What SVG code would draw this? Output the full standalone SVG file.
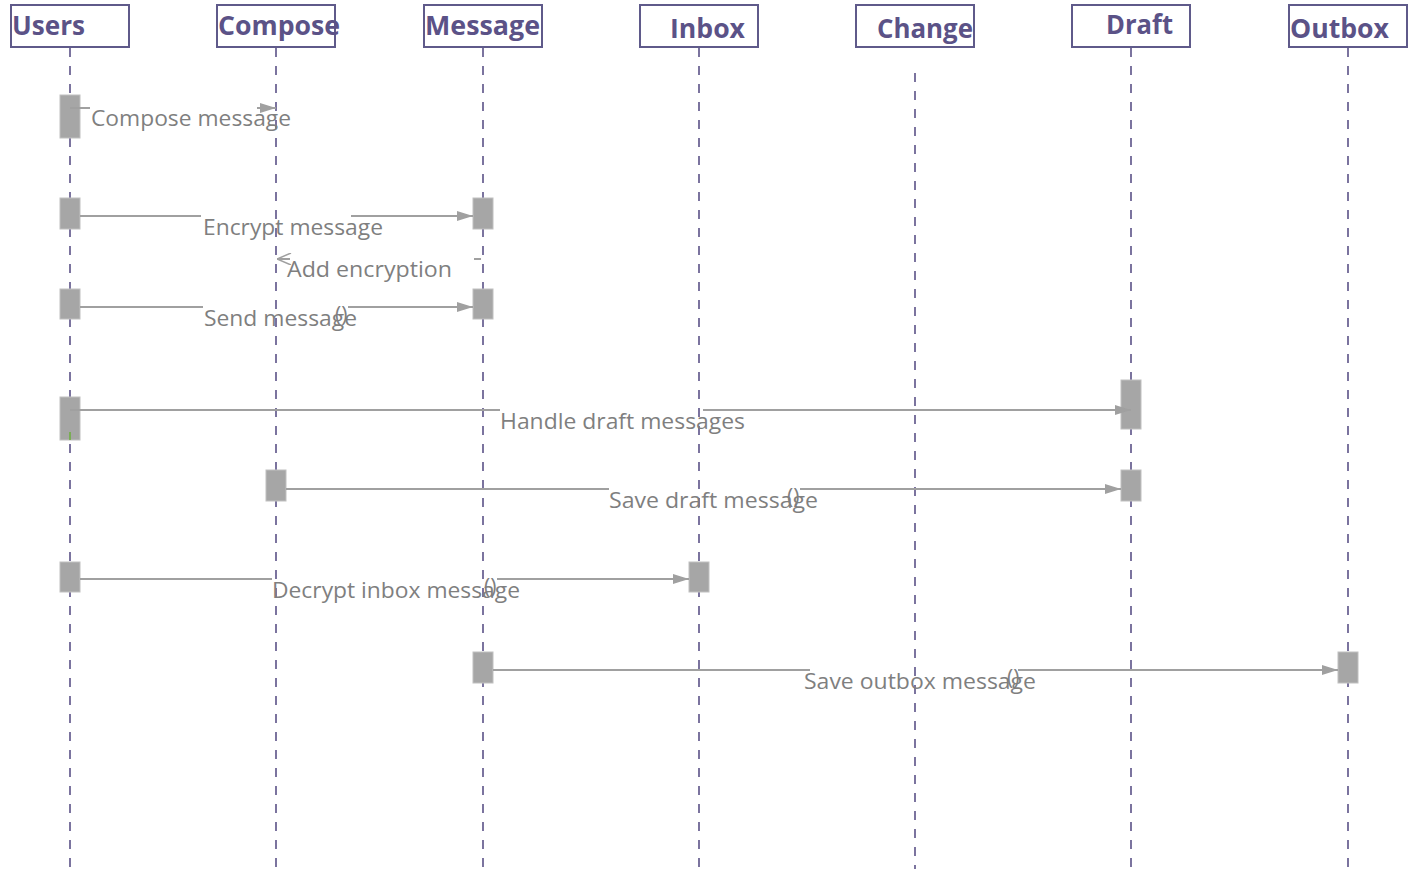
<svg xmlns="http://www.w3.org/2000/svg" width="1415" height="869" viewBox="0 0 1415 869">
<defs>
<style>
.box{fill:#fff;stroke:#5f5a8a;stroke-width:2}
.hd{font-family:"Open Sans","Noto Sans",sans-serif;font-weight:bold;font-size:26px;fill:#5b5287}
.life{stroke:#5b5287;stroke-width:1.6;stroke-dasharray:9 9;fill:none}
.act{fill:#a6a6a6;stroke:#c0c0c0;stroke-width:1}
.msg{stroke:#a0a0a0;stroke-width:2;fill:none}
.lbl{font-family:"Open Sans","Noto Sans",sans-serif;font-size:21px;fill:#7f7f7f}
</style>
<marker id="ah" viewBox="0 0 16 10" refX="16" refY="5" markerWidth="16" markerHeight="10" markerUnits="userSpaceOnUse" orient="auto">
<path d="M0,0 L16,5 L0,10 Z" fill="#a0a0a0"/>
</marker>
<marker id="oh" viewBox="0 0 16 12" refX="0" refY="6" markerWidth="16" markerHeight="12" markerUnits="userSpaceOnUse" orient="auto">
<path d="M14,0 L0,6 L14,12" fill="none" stroke="#a0a0a0" stroke-width="1.5"/>
</marker>
</defs>
<rect width="1415" height="869" fill="#fff"/>
<g id="lifelines">
<line class="life" x1="70" y1="48" x2="70" y2="869"/>
<line class="life" x1="276" y1="48" x2="276" y2="869"/>
<line class="life" x1="483" y1="48" x2="483" y2="869"/>
<line class="life" x1="699" y1="48" x2="699" y2="869"/>
<line class="life" x1="915" y1="73" x2="915" y2="869"/>
<line class="life" x1="1131" y1="48" x2="1131" y2="869"/>
<line class="life" x1="1348" y1="48" x2="1348" y2="869"/>
</g>
<g id="node-users"><rect class="box" x="11" y="5" width="118" height="42"/><text class="hd" x="12" y="35" textLength="73" lengthAdjust="spacingAndGlyphs">Users</text></g>
<g id="node-compose"><rect class="box" x="217" y="5" width="118" height="42"/><text class="hd" x="218" y="35" textLength="122" lengthAdjust="spacingAndGlyphs">Compose</text></g>
<g id="node-message"><rect class="box" x="424" y="5" width="118" height="42"/><text class="hd" x="425" y="35" textLength="115" lengthAdjust="spacingAndGlyphs">Message</text></g>
<g id="node-inbox"><rect class="box" x="640" y="5" width="118" height="42"/><text class="hd" x="670" y="38" textLength="75" lengthAdjust="spacingAndGlyphs">Inbox</text></g>
<g id="node-change"><rect class="box" x="856" y="5" width="118" height="42"/><text class="hd" x="877" y="38" textLength="96" lengthAdjust="spacingAndGlyphs">Change</text></g>
<g id="node-draft"><rect class="box" x="1072" y="5" width="118" height="42"/><text class="hd" x="1106" y="34" textLength="67" lengthAdjust="spacingAndGlyphs">Draft</text></g>
<g id="node-outbox"><rect class="box" x="1289" y="5" width="118" height="42"/><text class="hd" x="1290" y="38" textLength="99" lengthAdjust="spacingAndGlyphs">Outbox</text></g>
<g id="activations">
<rect class="act" x="60" y="95" width="20" height="43"/>
<rect class="act" x="60" y="198" width="20" height="31"/>
<rect class="act" x="473" y="198" width="20" height="31"/>
<rect class="act" x="60" y="289" width="20" height="30"/>
<rect class="act" x="473" y="289" width="20" height="30"/>
<rect class="act" x="1121" y="380" width="20" height="49"/>
<rect class="act" x="60" y="397" width="20" height="43"/>
<rect class="act" x="266" y="470" width="20" height="31"/>
<rect class="act" x="1121" y="470" width="20" height="31"/>
<rect class="act" x="60" y="562" width="20" height="30"/>
<rect class="act" x="689" y="562" width="20" height="30"/>
<rect class="act" x="473" y="652" width="20" height="31"/>
<rect class="act" x="1338" y="652" width="20" height="31"/>
<line x1="70" y1="432" x2="70" y2="440" stroke="#6aae3a" stroke-width="1.5"/>
</g>
<g id="connectors">
<path class="msg" d="M70,108 H90"/>
<path class="msg" d="M257,108 H276" marker-end="url(#ah)"/>
<path class="msg" d="M80,216 H201"/>
<path class="msg" d="M351,216 H473" marker-end="url(#ah)"/>
<path class="msg" d="M474,259 H481" stroke-width="1.5"/>
<path class="msg" d="M277,259 H290" marker-start="url(#oh)" stroke-width="1.5"/>
<path class="msg" d="M80,307 H203"/>
<path class="msg" d="M348,307 H473" marker-end="url(#ah)"/>
<path class="msg" d="M70,410 H500"/>
<path class="msg" d="M703,410 H1131" marker-end="url(#ah)"/>
<path class="msg" d="M286,489 H609"/>
<path class="msg" d="M800,489 H1121" marker-end="url(#ah)"/>
<path class="msg" d="M80,579 H272"/>
<path class="msg" d="M497,579 H689" marker-end="url(#ah)"/>
<path class="msg" d="M493,670 H810"/>
<path class="msg" d="M1018,670 H1338" marker-end="url(#ah)"/>
</g>
<g id="labels">
<text class="lbl" x="91" y="126" textLength="200" lengthAdjust="spacingAndGlyphs">Compose message</text>
<text class="lbl" x="203" y="235" textLength="180" lengthAdjust="spacingAndGlyphs">Encrypt message</text>
<text class="lbl" x="287" y="277" textLength="165" lengthAdjust="spacingAndGlyphs">Add encryption</text>
<text class="lbl" x="204" y="326" textLength="153" lengthAdjust="spacingAndGlyphs">Send message</text>
<text class="lbl" x="335" y="322" font-size="17">()</text>
<text class="lbl" x="500" y="429" textLength="245" lengthAdjust="spacingAndGlyphs">Handle draft messages</text>
<text class="lbl" x="609" y="508" textLength="209" lengthAdjust="spacingAndGlyphs">Save draft message</text>
<text class="lbl" x="787" y="504" font-size="17">()</text>
<text class="lbl" x="272" y="598" textLength="248" lengthAdjust="spacingAndGlyphs">Decrypt inbox message</text>
<text class="lbl" x="484" y="594" font-size="17">()</text>
<text class="lbl" x="804" y="689" textLength="232" lengthAdjust="spacingAndGlyphs">Save outbox message</text>
<text class="lbl" x="1007" y="685" font-size="17">()</text>
</g>
</svg>
